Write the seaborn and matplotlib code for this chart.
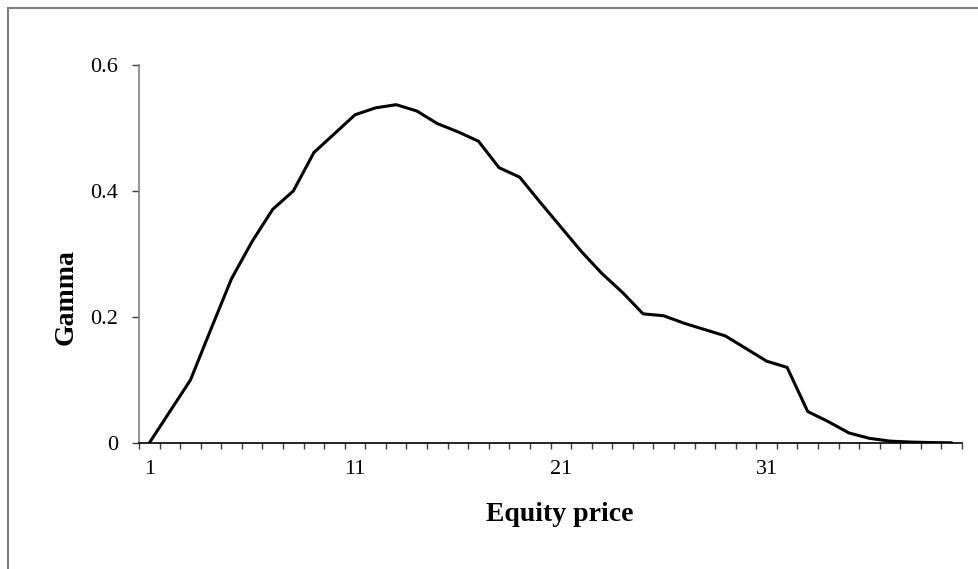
import numpy as np
import pandas as pd
import matplotlib.pyplot as plt
import seaborn as sns
from matplotlib.patches import Rectangle

# Valores
equity_price = list(range(1, 41))
gamma = [0.0, 0.05, 0.10, 0.181, 0.261, 0.32, 0.371, 0.40, 0.461, 0.491,
         0.521, 0.532, 0.537, 0.527, 0.507, 0.494, 0.479, 0.437, 0.422, 0.382,
         0.343, 0.304, 0.269, 0.239, 0.205, 0.202, 0.19, 0.18, 0.170, 0.150,
         0.130, 0.120, 0.050, 0.034, 0.016, 0.0074, 0.003, 0.0015, 0.0007, 0.0003]
tick_labels = ['1', '11', '21', '31']

df = pd.DataFrame({'Equity price': equity_price, 'Gamma': gamma})

sns.set_style('white')
plt.rcParams['font.family'] = ['Liberation Serif', 'DejaVu Serif']
plt.rcParams['text.color'] = 'black'
plt.rcParams['axes.labelcolor'] = 'black'

fig = plt.figure(figsize=(9.79, 5.69), dpi=100)
ax = fig.add_axes([139 / 979, 1 - 443 / 569, 823 / 979, 378 / 569])

sns.lineplot(x='Equity price', y='Gamma', data=df, ax=ax, color='black', linewidth=2.2)

ax.set_xlim(0.5, 40.5)
ax.set_ylim(0, 0.6)

# eixo y
ax.set_yticks([0, 0.2, 0.4, 0.6])
ax.set_yticklabels(['0', '0.2', '0.4', '0.6'])
ax.tick_params(axis='y', which='major', length=5, width=1, color='#404040',
               direction='out', left=True, pad=10, labelsize=16, labelcolor='black')

# eixo x: tracinhos entre categorias, rótulos nas categorias
ax.set_xticks(np.arange(0.5, 41, 1))
ax.set_xticklabels([])
ax.set_xticks([int(t) for t in tick_labels], minor=True)
ax.set_xticklabels(tick_labels, minor=True)
ax.tick_params(axis='x', which='major', length=4.5, width=1, color='#404040',
               direction='out', bottom=True)
ax.tick_params(axis='x', which='minor', length=0, pad=12, labelsize=16, labelcolor='black')

for s in ['top', 'right']:
    ax.spines[s].set_visible(False)
ax.spines['left'].set_color('#808080')
ax.spines['left'].set_linewidth(1.2)
ax.spines['bottom'].set_color('black')
ax.spines['bottom'].set_linewidth(1.2)

ax.set_xlabel('Equity price', fontsize=20, fontweight='bold', color='black')
ax.set_ylabel('Gamma', fontsize=20, fontweight='bold', color='black')
ax.xaxis.set_label_coords(0.5115, -0.156)
ax.yaxis.set_label_coords(-0.0729, 0.386)

# borda da área do gráfico
fig.patches.append(Rectangle((8 / 979, -0.1), 1.2, (569 - 8) / 569 + 0.1,
                             transform=fig.transFigure, fill=False,
                             edgecolor='#808080', linewidth=1.5))

fig.savefig('out.png', dpi=100)
